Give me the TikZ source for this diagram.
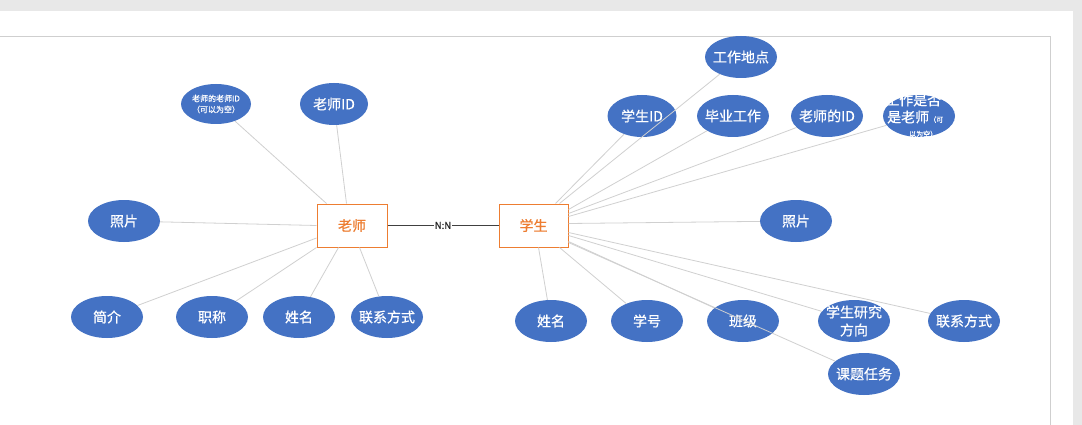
\documentclass[tikz,border=0pt]{standalone}
\usepackage{fontspec}
\setmainfont{Noto Sans CJK SC}
\newfontfamily\heavycjk[FakeBold=0.6]{Noto Sans CJK SC}
\usetikzlibrary{shapes.geometric,calc}
\definecolor{attrblue}{HTML}{4472C4}
\definecolor{entorange}{HTML}{ED7D31}
\definecolor{pagegray}{HTML}{E8E8E8}
\definecolor{linkgray}{HTML}{D0D0D0}
\definecolor{framegray}{HTML}{CFCFCF}
\tikzset{
  attr/.style={ellipse, fill=attrblue, draw=none, text=white, minimum width=72pt, minimum height=42pt, inner xsep=-8pt, inner ysep=-4pt, font=\heavycjk\fontsize{14}{16}\selectfont, align=center},
  ent/.style={rectangle, draw=entorange, line width=1pt, fill=white, text=entorange, minimum width=70pt, minimum height=43pt, inner sep=0pt, font=\heavycjk\fontsize{14}{16}\selectfont},
  link/.style={draw=linkgray, line width=0.8pt},
  rel/.style={draw=black!75, line width=0.9pt}
}
\begin{document}
\begin{tikzpicture}[x=1pt,y=-1pt]
\useasboundingbox (0,0) rectangle (1082,425);
\fill[pagegray] (0,0) rectangle (1082,425);
\fill[white] (0,11) rectangle (1073,425);
\draw[framegray, line width=0.8pt] (-5,36) -- (1050,36) -- (1050,430);

% entities
\node[ent] (t) at (352,225.5) {老师};
\node[ent, minimum width=69pt] (s) at (533.5,225.5) {学生};

% teacher attributes
\node[attr, minimum width=70pt, minimum height=40pt, font=\heavycjk\fontsize{8}{11}\selectfont] (tt) at (216,104) {老师的老师ID\\（可以为空）};
\node[attr, minimum width=68pt] (tid) at (334,104) {老师ID};
\node[attr] (tphoto) at (124,221) {照片};
\node[attr] (tintro) at (107,317) {简介};
\node[attr] (ttitle) at (212,317) {职称};
\node[attr] (tname) at (299,317) {姓名};
\node[attr] (tcontact) at (387,317) {联系方式};

% student attributes
\node[attr] (swork) at (741,57) {工作地点};
\node[attr, minimum width=69pt] (sid) at (642,116) {学生ID};
\node[attr] (sgrad) at (733,116) {毕业工作};
\node[attr] (stid) at (827,116) {老师的ID};
\node[attr] (sist) at (919,116) {};
\node[text=white, font=\heavycjk\fontsize{14}{16}\selectfont, anchor=west, inner sep=0pt] (sistA) at (885,100) {工作是否};
\node[text=white, anchor=west, inner sep=0pt] (sistB) at (887,117) {\heavycjk\fontsize{14}{16}\selectfont 是老师\fontsize{7}{9}\selectfont（可};
\node[text=white, font=\heavycjk\fontsize{7}{9}\selectfont, anchor=west, inner sep=0pt] (sistC) at (909,134) {以为空）};
\node[attr] (sphoto) at (796,221) {照片};
\node[attr] (sname) at (551,321) {姓名};
\node[attr] (sno) at (647,321) {学号};
\node[attr] (sclass) at (743,321) {班级};
\node[attr, font=\heavycjk\fontsize{14}{18}\selectfont, inner ysep=-6pt] (sdir) at (854,321) {学生研究\\方向};
\node[attr] (scontact) at (964,321) {联系方式};
\node[attr] (stask) at (864,374) {课题任务};

% relation
\draw[rel] (t) -- node[fill=white, text=black!85, inner sep=0.5pt, font=\heavycjk\fontsize{9.5}{11}\selectfont] (nn) {N:N} (s);

% teacher links
\draw[link] ($(t.north west)+(10,0)$) -- (tt);
\draw[link] ($(t.north west)+(30,0)$) -- (tid);
\draw[link] (t.west) -- (tphoto);
\draw[link] ($(t.west)+(0,12.5)$) -- (tintro);
\draw[link] (t.south west) -- (ttitle);
\draw[link] ($(t.south west)+(22,0)$) -- (tname);
\draw[link] ($(t.south west)+(43,0)$) -- (tcontact);

% student links
\draw[link] ($(s.north west)+(57,0)$) -- (sid);
\draw[link] ($(s.north west)+(61,0)$) -- (swork);
\draw[link] ($(s.north east)+(0,6)$) -- (sgrad);
\draw[link] ($(s.north east)+(0,10)$) -- (stid);
\draw[link] ($(s.north east)+(0,13)$) -- (sist);
\draw[link] ($(s.north east)+(0,20)$) -- (sphoto);
\draw[link] ($(s.north east)+(0,29)$) -- (scontact);
\draw[link] ($(s.north east)+(0,32)$) -- (sdir);
\draw[link] ($(s.north east)+(0,38)$) -- (sclass);
\draw[link] ($(s.north east)+(0,39)$) -- (stask);
\draw[link] ($(s.south west)+(40,0)$) -- (sname);
\draw[link] ($(s.south west)+(61,0)$) -- (sno);
\end{tikzpicture}
\end{document}
